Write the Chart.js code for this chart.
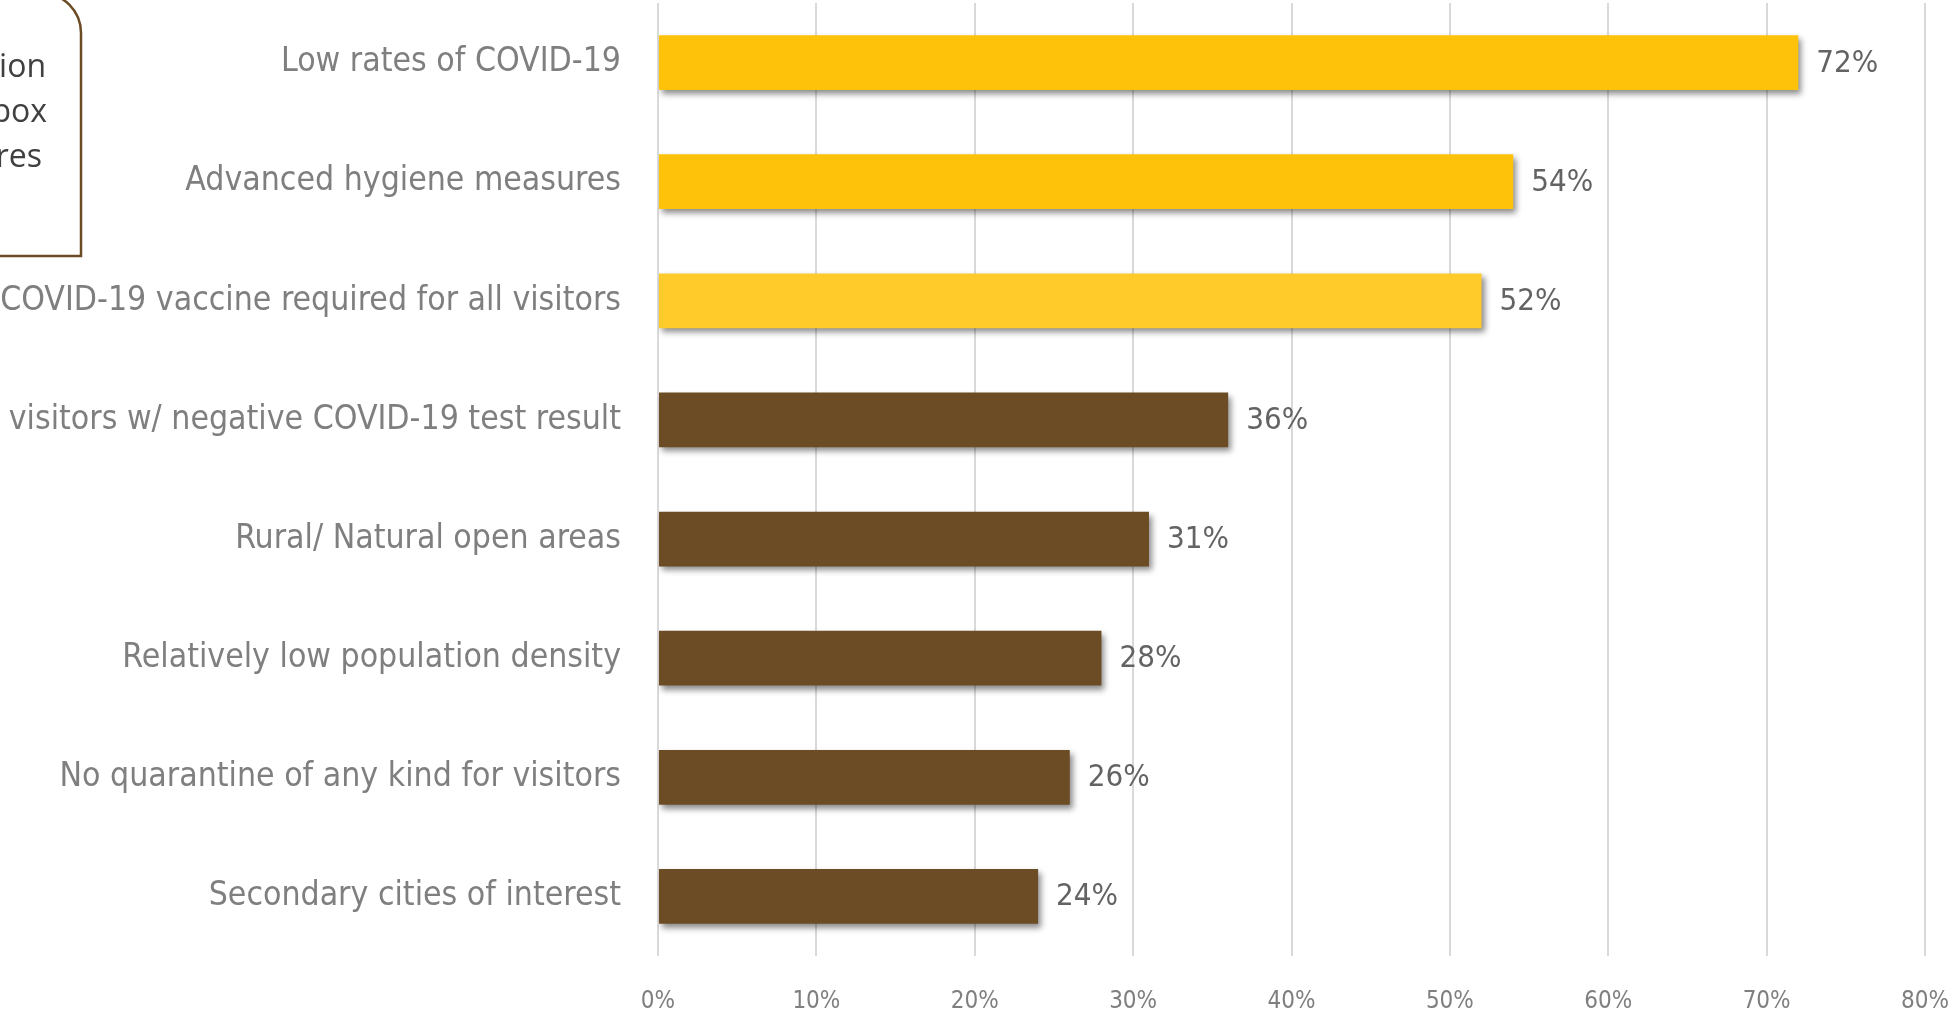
<!DOCTYPE html>
<html>
<head>
<meta charset="utf-8">
<script src="https://cdn.jsdelivr.net/npm/chart.js@4.4.1/dist/chart.umd.min.js"></script>
<style>
  html, body { margin: 0; padding: 0; background: #fff; }
  #wrap { width: 1958px; height: 1011px; position: relative; }
</style>
</head>
<body>
<div id="wrap"><canvas id="barChart"></canvas></div>
<script>
// data
const categories = [
  'Low rates of COVID-19',
  'Advanced hygiene measures',
  'COVID-19 vaccine required for all visitors',
  'visitors w/ negative COVID-19 test result',
  'Rural/ Natural open areas',
  'Relatively low population density',
  'No quarantine of any kind for visitors',
  'Secondary cities of interest'
];
const shares = [72, 54, 52, 36, 31, 28, 26, 24];
const barColors = ['#FFC20A', '#FFC20A', '#FFCB2B', '#6B4C24', '#6B4C24', '#6B4C24', '#6B4C24', '#6B4C24'];
const axisMin = 0, axisMax = 80, axisStep = 10;
const boxLines = ['ion', 'box', 'res'];   // clipped note box, top left

const narrow = "'Liberation Sans Narrow', 'DejaVu Sans Condensed', 'Arial Narrow', sans-serif";

// drop shadow under bars + value labels
const barExtras = {
  id: 'barExtras',
  beforeDatasetsDraw(chart) {
    const ctx = chart.ctx;
    ctx.save();
    ctx.shadowColor = 'rgba(0,0,0,0.45)';
    ctx.shadowBlur = 6;
    ctx.shadowOffsetX = 3;
    ctx.shadowOffsetY = 4;
  },
  afterDatasetsDraw(chart) {
    const ctx = chart.ctx;
    ctx.restore();
    ctx.save();
    ctx.font = '31px ' + narrow;
    ctx.fillStyle = '#636363';
    ctx.textAlign = 'left';
    ctx.textBaseline = 'middle';
    chart.getDatasetMeta(0).data.forEach((bar, i) => {
      ctx.fillText(shares[i] + '%', bar.x + 18, bar.y + 1);
    });
    ctx.restore();
  }
};

// the note box cut off at the top-left corner
const noteBox = {
  id: 'noteBox',
  afterDraw(chart) {
    const ctx = chart.ctx;
    ctx.save();
    ctx.strokeStyle = '#6B4C24';
    ctx.lineWidth = 2.5;
    ctx.beginPath();
    ctx.moveTo(-20, -7);
    ctx.lineTo(41, -7);
    ctx.arcTo(81, -7, 81, 33, 40);
    ctx.lineTo(81, 256);
    ctx.lineTo(-20, 256);
    ctx.stroke();
    ctx.font = "32px 'Open Sans', sans-serif";
    ctx.fillStyle = '#404040';
    ctx.textAlign = 'right';
    ctx.textBaseline = 'alphabetic';
    const ends = [46, 47, 42];
    boxLines.forEach((t, i) => ctx.fillText(t, ends[i], 77 + i * 45));
    ctx.restore();
  }
};

new Chart(document.getElementById('barChart'), {
  type: 'bar',
  data: {
    labels: categories,
    datasets: [{
      data: shares,
      backgroundColor: barColors,
      borderWidth: 0,
      barPercentage: 0.46,
      categoryPercentage: 1
    }]
  },
  options: {
    indexAxis: 'y',
    responsive: true,
    maintainAspectRatio: false,
    animation: false,
    layout: { padding: { top: 3, right: 33, left: 0, bottom: 0 } },
    plugins: {
      legend: { display: false },
      tooltip: { enabled: false }
    },
    scales: {
      x: {
        min: axisMin,
        max: axisMax,
        ticks: {
          stepSize: axisStep,
          padding: 31,
          color: '#7f7f7f',
          font: { family: narrow, size: 24 },
          callback: v => v + '%'
        },
        grid: { color: '#d9d9d9', lineWidth: 2, drawTicks: false },
        border: { display: false },
        afterFit: s => { s.height = 55; s.paddingLeft = 0; s.paddingRight = 0; }
      },
      y: {
        ticks: {
          padding: 37,
          color: '#7f7f7f',
          font: { family: narrow, size: 33.5 }
        },
        grid: { display: false, drawTicks: false },
        border: { display: false },
        afterFit: s => { s.width = 658; s.paddingTop = 0; s.paddingBottom = 0; }
      }
    }
  },
  plugins: [barExtras, noteBox]
});
</script>
</body>
</html>
